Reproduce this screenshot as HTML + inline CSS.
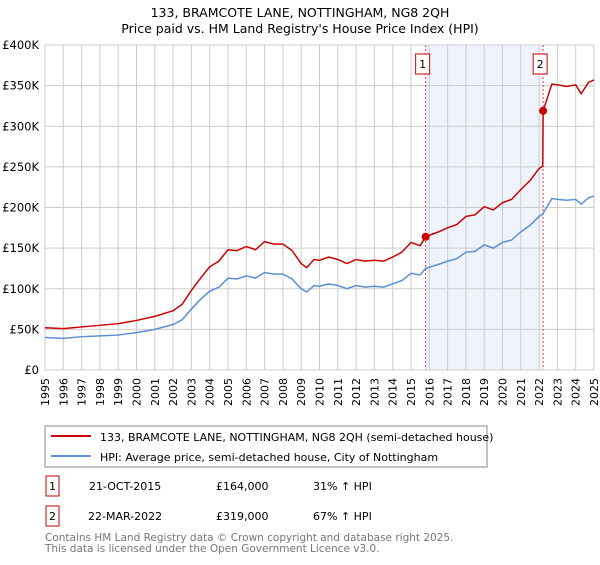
<!DOCTYPE html>
<html><head><meta charset="utf-8"><style>
body{margin:0;background:#fff;font-family:"Liberation Sans","DejaVu Sans",sans-serif;}
svg text{font-family:"DejaVu Sans","Liberation Sans",sans-serif;}
</style></head><body>
<svg width="600" height="560" id="svg">
<text x="300" y="17" text-anchor="middle" font-size="12.5">133, BRAMCOTE LANE, NOTTINGHAM, NG8 2QH</text>
<text x="300" y="33" text-anchor="middle" font-size="12.5">Price paid vs. HM Land Registry's House Price Index (HPI)</text>
<g id="plot"></g>
<rect x="45" y="426" width="442" height="41" fill="#fff" stroke="#888"/>
<line x1="51" y1="436" x2="91" y2="436" stroke="#cc0000" stroke-width="2"/>
<text x="100" y="441" font-size="11">133, BRAMCOTE LANE, NOTTINGHAM, NG8 2QH (semi-detached house)</text>
<line x1="51" y1="456" x2="91" y2="456" stroke="#5b8fd4" stroke-width="2"/>
<text x="100" y="461" font-size="11">HPI: Average price, semi-detached house, City of Nottingham</text>
<g font-size="11">
<rect x="46" y="476" width="13" height="20" fill="none" stroke="#cc0000"/><text x="52.5" y="490" text-anchor="middle">1</text>
<text x="89" y="490">21-OCT-2015</text><text x="216" y="490">£164,000</text><text x="313" y="490">31% ↑ HPI</text>
<rect x="46" y="506" width="13" height="20" fill="none" stroke="#cc0000"/><text x="52.5" y="520" text-anchor="middle">2</text>
<text x="88" y="520">22-MAR-2022</text><text x="216" y="520">£319,000</text><text x="313" y="520">67% ↑ HPI</text>
</g>
<text x="45" y="541" font-size="10.5" fill="#777">Contains HM Land Registry data © Crown copyright and database right 2025.</text>
<text x="45" y="552" font-size="10.5" fill="#777">This data is licensed under the Open Government Licence v3.0.</text>
</svg>
<script>
const hpiYears=[1995,1996,1997,1998,1999,2000,2001,2002,2002.5,2003,2003.5,2004,2004.5,2005,2005.5,2006,2006.5,2007,2007.5,2008,2008.5,2009,2009.3,2009.7,2010,2010.5,2011,2011.5,2012,2012.5,2013,2013.5,2014,2014.5,2015,2015.5,2015.8,2016.5,2017,2017.5,2018,2018.5,2019,2019.5,2020,2020.5,2021,2021.5,2022,2022.2,2022.7,2023,2023.5,2024,2024.3,2024.7,2025];
const hpiValues=[40,39,41,42,43,46,50,56,62,75,87,97,102,113,112,116,113,120,118,118,112,100,96,104,103,106,104,100,104,102,103,102,106,110,119,117,125,130,134,137,145,146,154,150,157,160,170,178,189,192,211,210,209,210,204,212,214];
const propYears=[1995,1996,1997,1998,1999,2000,2001,2002,2002.5,2003,2003.5,2004,2004.5,2005,2005.5,2006,2006.5,2007,2007.5,2008,2008.5,2009,2009.3,2009.7,2010,2010.5,2011,2011.5,2012,2012.5,2013,2013.5,2014,2014.5,2015,2015.5,2015.8,2016.5,2017,2017.5,2018,2018.5,2019,2019.5,2020,2020.5,2021,2021.5,2022,2022.2,2022.22,2022.7,2023,2023.5,2024,2024.3,2024.7,2025];
const propValues=[52,51,53,55,57,61,66,73,81,98,113,127,134,148,147,152,148,158,155,155,147,131,126,136,135,139,136,131,136,134,135,134,139,145,157,153,164,170,175,179,189,191,201,197,206,210,222,233,248,251,319,352,351,349,351,340,354,357];
const saleYears=[2015.8,2022.22];
const saleValues=[164,319];
const saleLabels=["1","2"];
const yTicks=[0,50,100,150,200,250,300,350,400];
const yTickLabels=["£0","£50K","£100K","£150K","£200K","£250K","£300K","£350K","£400K"];
const xTicks=[1995,1996,1997,1998,1999,2000,2001,2002,2003,2004,2005,2006,2007,2008,2009,2010,2011,2012,2013,2014,2015,2016,2017,2018,2019,2020,2021,2022,2023,2024,2025];
const X0=45,X1=594,Y0=370,Y1=45;
const sx=y=>X0+(y-1995)/30*(X1-X0);
const sy=v=>Y0-v/400*(Y0-Y1);
const g=document.getElementById('plot');
const NS='http://www.w3.org/2000/svg';
function mk(t,a){const e=document.createElementNS(NS,t);for(const k in a)e.setAttribute(k,a[k]);g.appendChild(e);return e;}
let r=mk('rect',{x:sx(saleYears[0]),y:Y1,width:sx(saleYears[1])-sx(saleYears[0]),height:Y0-Y1,fill:'#eef3fc'});


xTicks.forEach((t,i)=>{
 let l=mk('line',{x1:sx(t),x2:sx(t),y1:Y1,y2:Y0,stroke:'#ccc','stroke-width':1});
 
 
 let x=sx(t),tx=mk('text',{x:x+4,y:Y0+8,'font-size':11,'text-anchor':'end',transform:`rotate(-90 ${x+4} ${Y0+8})`});
 tx.textContent=t;
 
 
});
yTicks.forEach((t,i)=>{
 let l=mk('line',{x1:X0,x2:X1,y1:sy(t),y2:sy(t),stroke:'#ccc','stroke-width':1});
 
 
 let tx=mk('text',{x:X0-6,y:sy(t)+4,'font-size':11.5,'text-anchor':'end'});
 tx.textContent=yTickLabels[i];
 
 
});
saleYears.forEach((s,i)=>{
 let l=mk('line',{x1:sx(s),x2:sx(s),y1:Y1,y2:Y0,stroke:'#e04040','stroke-width':1,'stroke-dasharray':'2,2'});
 
 
 let b=mk('rect',{x:sx(s)-10,y:54,width:14,height:20,fill:'#fff',stroke:'#cc0000'});
 
 
 let t=mk('text',{x:sx(s)-3,y:68,'font-size':11,'text-anchor':'middle'});
 t.textContent=saleLabels[i];
 
 
});
let ax=mk('path',{d:`M${X0} ${Y1}V${Y0}H${X1}`,fill:'none',stroke:'#ccc'});


let hp=mk('polyline',{points:hpiYears.map((y,i)=>sx(y)+','+sy(hpiValues[i])).join(' '),fill:'none',stroke:'#5b8fd4','stroke-width':1.5});


let pp=mk('polyline',{points:propYears.map((y,i)=>sx(y)+','+sy(propValues[i])).join(' '),fill:'none',stroke:'#cc0000','stroke-width':1.5});


saleYears.forEach((s,i)=>{
 let c=mk('circle',{cx:sx(s),cy:sy(saleValues[i]),r:4,fill:'#cc0000'});
 
 
});
</script>
</body></html>
